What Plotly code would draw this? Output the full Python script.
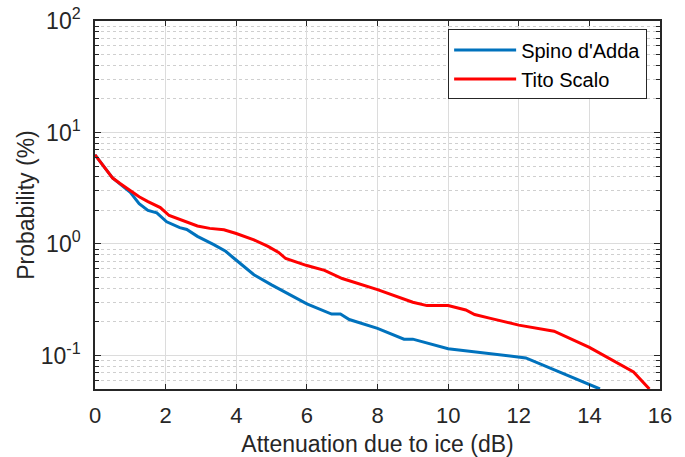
import plotly.graph_objects as go

# Spino d'Adda exceedance curve
spino_x = [0, 0.5, 1.0, 1.25, 1.5, 1.75, 2.03, 2.4, 2.6, 2.9, 3.35, 3.7, 3.9, 4.5, 5.0, 5.5, 6.0, 6.7, 6.95, 7.2, 8.0, 8.75, 9.0, 10.0, 12.2, 14.3]
spino_y = [6.3, 3.9, 2.9, 2.3, 2.0, 1.9, 1.58, 1.4, 1.35, 1.17, 0.99, 0.86, 0.76, 0.53, 0.43, 0.35, 0.29, 0.235, 0.235, 0.21, 0.175, 0.14, 0.14, 0.115, 0.095, 0.05]

# Tito Scalo exceedance curve
tito_x = [0, 0.5, 0.7, 1.0, 1.25, 1.5, 1.85, 2.1, 2.5, 2.9, 3.25, 3.65, 4.0, 4.5, 4.9, 5.2, 5.4, 6.0, 6.5, 7.0, 8.0, 8.5, 9.0, 9.4, 10.0, 10.5, 10.75, 11.2, 12.0, 13.0, 14.0, 15.25, 15.7]
tito_y = [6.3, 3.9, 3.5, 3.0, 2.65, 2.4, 2.12, 1.8, 1.62, 1.45, 1.38, 1.34, 1.24, 1.09, 0.95, 0.84, 0.74, 0.64, 0.58, 0.49, 0.39, 0.34, 0.30, 0.28, 0.28, 0.256, 0.233, 0.215, 0.187, 0.165, 0.118, 0.071, 0.05]

x_ticks = [0, 2, 4, 6, 8, 10, 12, 14, 16]
y_tickvals = [0.1, 1, 10, 100]
y_ticktext = ["10<sup>-1</sup>", "10<sup>0</sup>", "10<sup>1</sup>", "10<sup>2</sup>"]
# minor decade subdivisions (2..9 x 10^k) inside the visible range
y_minor = [m * 10 ** k for k in (-2, -1, 0, 1) for m in range(2, 10) if 0.05 <= m * 10 ** k < 100]

fig = go.Figure()
fig.add_trace(go.Scatter(x=spino_x, y=spino_y, mode="lines", name="Spino d'Adda",
                         line=dict(color="#0072BD", width=3)))
fig.add_trace(go.Scatter(x=tito_x, y=tito_y, mode="lines", name="Tito Scalo",
                         line=dict(color="#FF0000", width=3)))

font_family = "Liberation Sans, Arial, sans-serif"
axis_color = "#262626"

fig.update_layout(
    width=685, height=457,
    margin=dict(l=95, r=25, t=21, b=68),
    paper_bgcolor="white", plot_bgcolor="white",
    font=dict(family=font_family, size=22, color=axis_color),
    showlegend=True,
    legend=dict(x=0.625, y=0.977, xanchor="left", yanchor="top",
                bgcolor="white", bordercolor=axis_color, borderwidth=1,
                font=dict(size=20, color="black"), tracegroupgap=0,
                itemwidth=62),
    xaxis=dict(
        range=[0, 16], tickvals=x_ticks, ticks="inside", ticklen=5,
        tickcolor=axis_color, showline=True, linecolor=axis_color, linewidth=1.5,
        mirror="ticks", showgrid=True, gridcolor="#DCDCDC", gridwidth=1,
        zeroline=False, tickfont=dict(size=22), automargin=False,
        ticklabelstandoff=6,
        title=dict(text="Attenuation due to ice (dB)", font=dict(size=23), standoff=11),
    ),
    yaxis=dict(
        type="log", range=[-1.301, 2], tickvals=y_tickvals, ticktext=y_ticktext,
        ticks="inside", ticklen=6, tickcolor=axis_color,
        showline=True, linecolor=axis_color, linewidth=1.5, mirror="ticks",
        showgrid=True, gridcolor="#DCDCDC", gridwidth=1, zeroline=False,
        tickfont=dict(size=23), automargin=False, ticklabelstandoff=8,
        minor=dict(tickvals=y_minor, ticks="inside", ticklen=4, tickcolor=axis_color,
                   showgrid=True, gridcolor="#CFCFCF", griddash="dot", gridwidth=1),
        title=dict(text="Probability (%)", font=dict(size=23), standoff=0),
    ),
)

fig.write_html("out.html")
